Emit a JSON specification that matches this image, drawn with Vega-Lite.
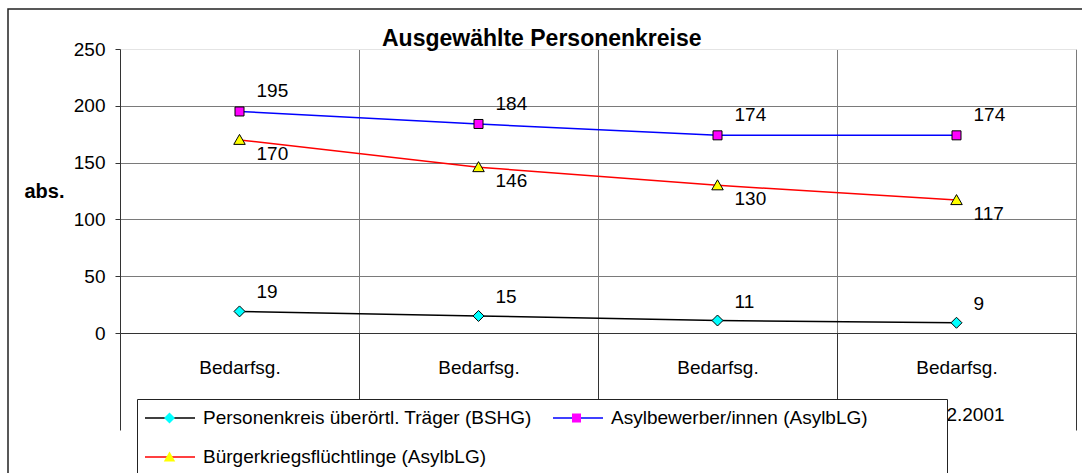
{
  "$schema": "https://vega.github.io/schema/vega-lite/v6.json",
  "width": 1078,
  "height": 468,
  "autosize": {"type": "none"},
  "padding": {"left": 8, "top": 9, "right": 0, "bottom": 0},
  "background": "white",
  "view": {"stroke": "#222", "strokeWidth": 1.5},
  "title": {
    "text": "Ausgewählte Personenkreise",
    "font": "Liberation Sans",
    "fontSize": 23,
    "fontWeight": "bold",
    "color": "black",
    "anchor": "start",
    "frame": "group",
    "baseline": "alphabetic",
    "offset": 0,
    "dx": 374,
    "dy": 60
  },
  "data": {
    "values": [
      {"zeit": "Bedarfsg.\n31.12.1998", "serie": "Personenkreis überörtl. Träger (BSHG)", "wert": 19},
      {"zeit": "Bedarfsg.\n31.12.1999", "serie": "Personenkreis überörtl. Träger (BSHG)", "wert": 15},
      {"zeit": "Bedarfsg.\n31.12.2000", "serie": "Personenkreis überörtl. Träger (BSHG)", "wert": 11},
      {"zeit": "Bedarfsg.\n31.12.2001", "serie": "Personenkreis überörtl. Träger (BSHG)", "wert": 9},
      {"zeit": "Bedarfsg.\n31.12.1998", "serie": "Asylbewerber/innen (AsylbLG)", "wert": 195},
      {"zeit": "Bedarfsg.\n31.12.1999", "serie": "Asylbewerber/innen (AsylbLG)", "wert": 184},
      {"zeit": "Bedarfsg.\n31.12.2000", "serie": "Asylbewerber/innen (AsylbLG)", "wert": 174},
      {"zeit": "Bedarfsg.\n31.12.2001", "serie": "Asylbewerber/innen (AsylbLG)", "wert": 174},
      {"zeit": "Bedarfsg.\n31.12.1998", "serie": "Bürgerkriegsflüchtlinge (AsylbLG)", "wert": 170},
      {"zeit": "Bedarfsg.\n31.12.1999", "serie": "Bürgerkriegsflüchtlinge (AsylbLG)", "wert": 146},
      {"zeit": "Bedarfsg.\n31.12.2000", "serie": "Bürgerkriegsflüchtlinge (AsylbLG)", "wert": 130},
      {"zeit": "Bedarfsg.\n31.12.2001", "serie": "Bürgerkriegsflüchtlinge (AsylbLG)", "wert": 117}
    ]
  },
  "resolve": {"axis": {"x": "independent"}},
  "encoding": {
    "x": {
      "field": "zeit",
      "type": "nominal",
      "sort": null,
      "scale": {"type": "band", "range": [112, 1068], "paddingInner": 0, "paddingOuter": 0},
      "axis": null
    },
    "y": {
      "field": "wert",
      "type": "quantitative",
      "scale": {"domain": [0, 250], "range": [324, 40], "nice": false},
      "axis": {
        "title": "abs.",
        "offset": -112,
        "values": [0, 50, 100, 150, 200, 250],
        "tickSize": 5,
        "tickColor": "#333",
        "domainColor": "#333",
        "labelFont": "Liberation Sans",
        "labelFontSize": 19,
        "labelColor": "black",
        "labelPadding": 10,
        "grid": true,
        "gridColor": {"condition": {"test": "datum.value == 250", "value": "#e4e4e4"}, "value": "#7a7a7a"},
        "titleAngle": 0,
        "titleX": -76,
        "titleY": 182,
        "titleAlign": "center",
        "titleBaseline": "middle",
        "titleFont": "Liberation Sans",
        "titleFontSize": 20,
        "titleFontWeight": "bold",
        "titleColor": "black"
      }
    }
  },
  "layer": [
    {
      "mark": {"type": "line", "strokeWidth": 1.5},
      "encoding": {
        "x": {
          "field": "zeit",
          "type": "nominal",
          "sort": null,
          "scale": {"type": "band", "range": [112, 1068], "paddingInner": 0, "paddingOuter": 0},
          "axis": {
            "title": null,
            "orient": "bottom",
            "offset": -144,
            "tickBand": "extent",
            "tickSize": 97,
            "tickColor": "#333",
            "domainColor": "#333",
            "labelAngle": 0,
            "labelFont": "Liberation Sans",
            "labelFontSize": 19,
            "labelColor": "black",
            "labelPadding": -57,
            "labelBaseline": "alphabetic",
            "labelLineHeight": 47,
            "labelOverlap": false,
            "labelExpr": "split(datum.label, '\\n')",
            "grid": false
          }
        },
        "stroke": {
          "field": "serie",
          "type": "nominal",
          "scale": {
            "domain": ["Personenkreis überörtl. Träger (BSHG)", "Asylbewerber/innen (AsylbLG)", "Bürgerkriegsflüchtlinge (AsylbLG)"],
            "range": ["#000000", "#0000FF", "#FF0000"]
          },
          "legend": {
            "orient": "none", "legendX": 129, "legendY": 390,
            "title": " ", "titleOrient": "right", "titlePadding": 72, "titleFontSize": 2,
            "direction": "horizontal", "columns": 2, "gridAlign": "all",
            "symbolType": "stroke", "symbolSize": 2500, "symbolStrokeWidth": 1.5,
            "labelFont": "Liberation Sans", "labelFontSize": 19, "labelColor": "black",
            "labelOffset": 7, "labelLimit": 1000,
            "columnPadding": 20, "rowPadding": 15, "padding": 7, "clipHeight": 24,
            "fillColor": "white", "strokeColor": "#222", "zindex": 1
          }
        }
      }
    },
    {
      "mark": {"type": "point", "filled": true, "size": 2500, "stroke": "black", "strokeWidth": 1, "opacity": 1},
      "encoding": {
        "x": {
          "field": "zeit",
          "type": "nominal",
          "sort": null,
          "scale": {"type": "band", "range": [112, 1068], "paddingInner": 0, "paddingOuter": 0},
          "axis": {
            "title": null,
            "orient": "top",
            "offset": 0,
            "tickBand": "extent",
            "ticks": false,
            "labels": false,
            "domain": false,
            "grid": true,
            "gridColor": {"condition": {"test": "datum.extra", "value": "#e4e4e4"}, "value": "#7a7a7a"}
          }
        },
        "shape": {
          "field": "serie", "type": "nominal", "sort": null,
          "scale": {"range": ["M0,-0.22L0.22,0L0,0.22L-0.22,0Z", "M-0.18,-0.18L0.18,-0.18L0.18,0.18L-0.18,0.18Z", "M0,-0.22L0.23,0.18L-0.23,0.18Z"]},
          "legend": {
            "orient": "none", "legendX": 129, "legendY": 390,
            "title": " ", "titleOrient": "right", "titlePadding": 72, "titleFontSize": 2,
            "direction": "horizontal", "columns": 2, "gridAlign": "all",
            "symbolSize": 2500, "symbolStrokeColor": "black", "symbolStrokeWidth": 1,
            "labelFont": "Liberation Sans", "labelFontSize": 19, "labelColor": "black", "labelOpacity": 0,
            "labelOffset": 7, "labelLimit": 1000,
            "columnPadding": 20, "rowPadding": 15, "padding": 7, "clipHeight": 24,
            "zindex": 2
          }
        },
        "fill": {
          "field": "serie", "type": "nominal", "sort": null,
          "scale": {"range": ["#00FFFF", "#FF00FF", "#FFFF00"]},
          "legend": {
            "orient": "none", "legendX": 129, "legendY": 390,
            "title": " ", "titleOrient": "right", "titlePadding": 72, "titleFontSize": 2,
            "direction": "horizontal", "columns": 2, "gridAlign": "all",
            "symbolSize": 2500, "symbolStrokeColor": "black", "symbolStrokeWidth": 1,
            "labelFont": "Liberation Sans", "labelFontSize": 19, "labelColor": "black", "labelOpacity": 0,
            "labelOffset": 7, "labelLimit": 1000,
            "columnPadding": 20, "rowPadding": 15, "padding": 7, "clipHeight": 24,
            "zindex": 2
          }
        }
      }
    },
    {
      "transform": [{"filter": {"field": "serie", "equal": "Personenkreis überörtl. Träger (BSHG)"}}],
      "mark": {"type": "text", "align": "left", "baseline": "middle", "dx": 17, "dy": -19, "font": "Liberation Sans", "fontSize": 19, "color": "black"},
      "encoding": {"text": {"field": "wert", "type": "quantitative"}}
    },
    {
      "transform": [{"filter": {"field": "serie", "equal": "Asylbewerber/innen (AsylbLG)"}}],
      "mark": {"type": "text", "align": "left", "baseline": "middle", "dx": 17, "dy": -20, "font": "Liberation Sans", "fontSize": 19, "color": "black"},
      "encoding": {"text": {"field": "wert", "type": "quantitative"}}
    },
    {
      "transform": [{"filter": {"field": "serie", "equal": "Bürgerkriegsflüchtlinge (AsylbLG)"}}],
      "mark": {"type": "text", "align": "left", "baseline": "middle", "dx": 17, "dy": 14, "font": "Liberation Sans", "fontSize": 19, "color": "black"},
      "encoding": {"text": {"field": "wert", "type": "quantitative"}}
    }
  ]
}
